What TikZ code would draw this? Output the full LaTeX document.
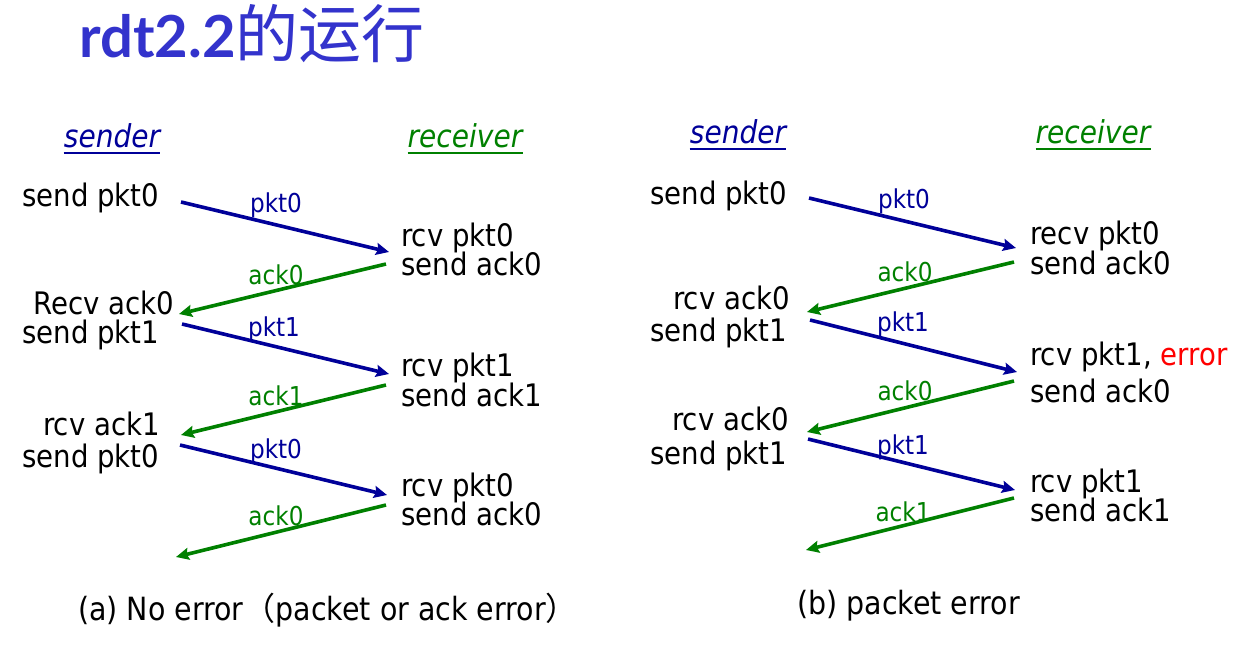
\documentclass[tikz,border=0pt]{standalone}
\usepackage{fontspec}
\setmainfont[FakeStretch=0.89]{DejaVu Sans}
\newfontfamily\cjk{Noto Sans CJK SC}
\newfontfamily\ttlfont{Lato}
\usetikzlibrary{arrows.meta}
\definecolor{ttl}{RGB}{51,51,204}
\definecolor{dblue}{RGB}{0,0,153}
\definecolor{dgreen}{RGB}{0,128,0}
\definecolor{errred}{RGB}{255,0,0}
\tikzset{
  txt/.style={anchor=base west, inner sep=0pt, font=\fontsize{31}{29}\selectfont},
  txtr/.style={anchor=base east, inner sep=0pt, font=\fontsize{31}{29}\selectfont},
  role/.style={anchor=base, inner sep=0pt, font=\fontsize{31.5}{30}\selectfont\itshape},
  lbl/.style={inner sep=0pt, font=\fontsize{26}{26}\selectfont},
  pktarrow/.style={draw=dblue, line width=3.6pt, -{Stealth[length=13pt,width=12pt,inset=2pt]}},
  ackarrow/.style={draw=dgreen, line width=3.6pt, -{Stealth[length=13pt,width=12pt,inset=2pt]}},
  capt/.style={anchor=base west, inner sep=0pt, font=\fontsize{32}{32}\selectfont}
}
\begin{document}
\begin{tikzpicture}[x=1pt,y=-1pt]
\useasboundingbox (0,0) rectangle (1252,668);
% title
\node[anchor=base west, inner sep=0pt, text=ttl] (title) at (79,58)
  {\fontsize{58}{60}\selectfont\ttlfont\bfseries rdt2.2{\cjk\mdseries\fontsize{63}{63}\selectfont 的运行}};

% role headings
\node[role, text=dblue] (lsend) at (112,148) {sender};
\node[role, text=dgreen] (lrecv) at (465,148) {receiver};
\node[role, text=dblue] (rsend) at (738,144) {sender};
\node[role, text=dgreen] (rrecv) at (1093,144) {receiver};
\foreach \n/\c in {lsend/dblue, lrecv/dgreen, rsend/dblue, rrecv/dgreen}
  \draw[\c, line width=1.8pt] ([yshift=-5pt]\n.base west) -- ([yshift=-5pt]\n.base east);

% ---------------- left panel ----------------
\node[txt] (ls1) at (22,207) {send pkt0};
\node[txt] (ls2) at (33,314) {Recv ack0};
\node[txt] (ls3) at (22,343) {send pkt1};
\node[txtr] (ls4) at (160,435) {rcv ack1};
\node[txt] (ls5) at (22,467) {send pkt0};

\node[txt] (lr1) at (401,247) {rcv pkt0};
\node[txt] (lr2) at (401,276) {send ack0};
\node[txt] (lr3) at (401,376) {rcv pkt1};
\node[txt] (lr4) at (401,406) {send ack1};
\node[txt] (lr5) at (401,496) {rcv pkt0};
\node[txt] (lr6) at (401,525) {send ack0};

\coordinate (a1s) at (181,202); \coordinate (a1e) at (389,252);
\coordinate (a2s) at (386,264); \coordinate (a2e) at (179,314);
\coordinate (a3s) at (182,324); \coordinate (a3e) at (389,374);
\coordinate (a4s) at (386,385); \coordinate (a4e) at (181,435);
\coordinate (a5s) at (180,445); \coordinate (a5e) at (387,495);
\coordinate (a6s) at (386,505); \coordinate (a6e) at (176,557);

\draw[pktarrow] (a1s) -- (a1e);
\draw[ackarrow] (a2s) -- (a2e);
\draw[pktarrow] (a3s) -- (a3e);
\draw[ackarrow] (a4s) -- (a4e);
\draw[pktarrow] (a5s) -- (a5e);
\draw[ackarrow] (a6s) -- (a6e);

\node[lbl, text=dblue]  (la1) at (276,205) {pkt0};
\node[lbl, text=dgreen] (la2) at (276,275) {ack0};
\node[lbl, text=dblue]  (la3) at (274,329) {pkt1};
\node[lbl, text=dgreen] (la4) at (276,396) {ack1};
\node[lbl, text=dblue]  (la5) at (276,451) {pkt0};
\node[lbl, text=dgreen] (la6) at (276,516) {ack0};

% ---------------- right panel ----------------
\node[txt] (rs1) at (650,205) {send pkt0};
\node[txtr] (rs2) at (790,309) {rcv ack0};
\node[txt] (rs3) at (650,341) {send pkt1};
\node[txtr] (rs4) at (789,430) {rcv ack0};
\node[txt] (rs5) at (650,464) {send pkt1};

\node[txt] (rr1) at (1030,245) {recv pkt0};
\node[txt] (rr2) at (1030,274) {send ack0};
\node[txt] (rr3) at (1030,365) {rcv pkt1, \textcolor{errred}{error}};
\node[txt] (rr4) at (1030,402) {send ack0};
\node[txt] (rr5) at (1030,492) {rcv pkt1};
\node[txt] (rr6) at (1030,521) {send ack1};

\coordinate (b1s) at (809,198);  \coordinate (b1e) at (1016,248);
\coordinate (b2s) at (1014,262); \coordinate (b2e) at (807,312);
\coordinate (b3s) at (810,320);  \coordinate (b3e) at (1017,372);
\coordinate (b4s) at (1014,381); \coordinate (b4e) at (807,432);
\coordinate (b5s) at (808,439);  \coordinate (b5e) at (1015,490);
\coordinate (b6s) at (1014,498); \coordinate (b6e) at (806,550);

\draw[pktarrow] (b1s) -- (b1e);
\draw[ackarrow] (b2s) -- (b2e);
\draw[pktarrow] (b3s) -- (b3e);
\draw[ackarrow] (b4s) -- (b4e);
\draw[pktarrow] (b5s) -- (b5e);
\draw[ackarrow] (b6s) -- (b6e);

\node[lbl, text=dblue]  (rb1) at (904,201) {pkt0};
\node[lbl, text=dgreen] (rb2) at (905,272) {ack0};
\node[lbl, text=dblue]  (rb3) at (903,324) {pkt1};
\node[lbl, text=dgreen] (rb4) at (905,391) {ack0};
\node[lbl, text=dblue]  (rb5) at (903,447) {pkt1};
\node[lbl, text=dgreen] (rb6) at (903,512) {ack1};

% captions
\node[capt] (capa) at (78,620) {(a) No error{\cjk （}packet or ack error{\cjk ）}};
\node[capt] (capb) at (797,614) {(b) packet error};
\end{tikzpicture}
\end{document}
